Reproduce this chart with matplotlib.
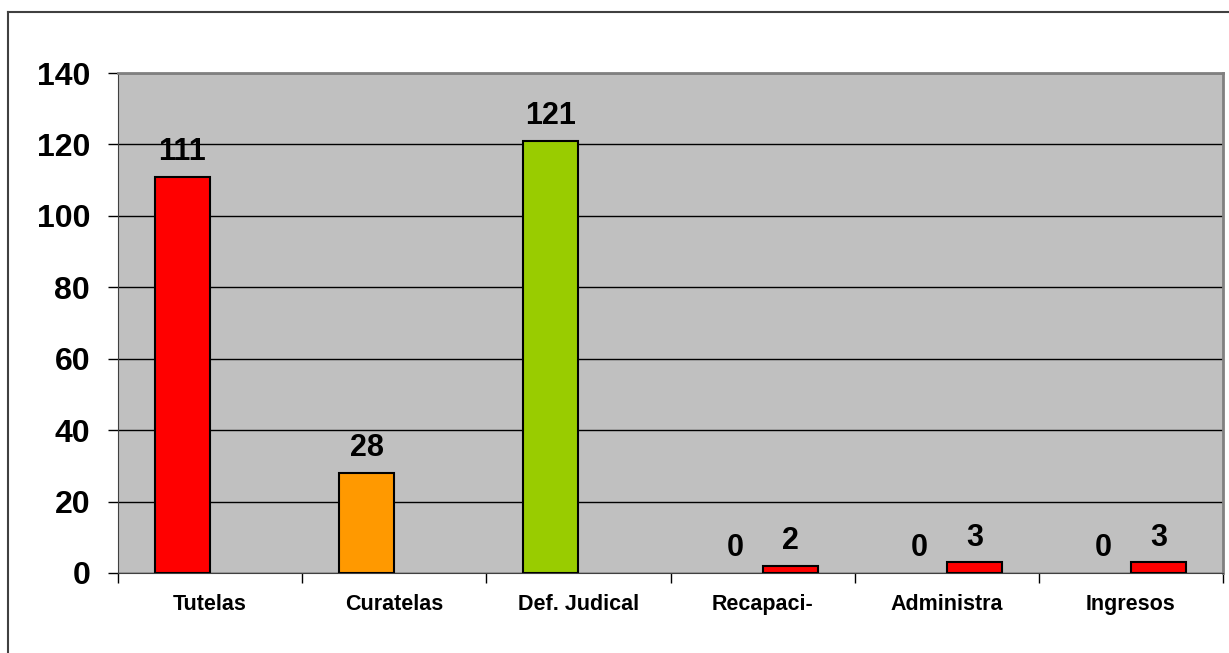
import numpy as np
import matplotlib.pyplot as plt
from matplotlib.lines import Line2D

categories = ['Tutelas', 'Curatelas', 'Def. Judical', 'Recapaci-', 'Administra', 'Ingresos']
serie1 = [111, 28, 121, 0, 0, 0]
serie2 = [np.nan, np.nan, np.nan, 2, 3, 3]
colors1 = ['#FF0000', '#FF9900', '#99CC00', '#FF0000', '#FF0000', '#FF0000']
colors2 = ['#FF0000'] * 6
yticks = [0, 20, 40, 60, 80, 100, 120, 140]

plt.rcParams['font.family'] = ['Liberation Sans', 'DejaVu Sans']
plt.rcParams['font.weight'] = 'bold'

fig = plt.figure(figsize=(12.29, 6.53), dpi=100)
ax = fig.add_axes([118 / 1229, 1 - 573 / 653, (1223 - 118) / 1229, (573 - 73) / 653])
ax.set_facecolor('#C0C0C0')

x = np.arange(len(categories))
w = 0.3
s2 = np.array(serie2, dtype=float)
ok = ~np.isnan(s2)

# zero-height bars get no outline, like the original
lw1 = [1.5 if v > 0 else 0 for v in serie1]
b1 = ax.bar(x - w / 2, serie1, width=w, color=colors1, edgecolor='black', linewidth=lw1, zorder=3)
b2 = ax.bar(x[ok] + w / 2, s2[ok], width=w, color=np.array(colors2)[ok], edgecolor='black',
            linewidth=1.5, zorder=3)
ax.bar_label(b1, labels=[str(v) for v in serie1], padding=7, fontsize=22, fontweight='bold')
ax.bar_label(b2, labels=[str(int(v)) for v in s2[ok]], padding=7, fontsize=22, fontweight='bold')

ax.set_xlim(-0.5, len(categories) - 0.5)
ax.set_ylim(0, 140)
ax.set_yticks(yticks)
ax.tick_params(axis='y', labelsize=23, length=7, width=1, pad=13)
ax.grid(axis='y', color='black', linewidth=1, zorder=1)

# category boundaries as ticks, names centred between them
ax.set_xticks(np.arange(len(categories) + 1) - 0.5)
ax.set_xticklabels([])
ax.set_xticks(x, minor=True)
ax.set_xticklabels(categories, minor=True, fontsize=15.5, fontweight='bold')
ax.tick_params(axis='x', which='major', length=7, width=1)
ax.tick_params(axis='x', which='minor', length=0, pad=15)

for s in ['top', 'right']:
    ax.spines[s].set_color('#808080')
    ax.spines[s].set_linewidth(2)
ax.spines['left'].set_color('#404040')
ax.spines['bottom'].set_color('#404040')

# outer chart border (left and top only visible)
fig.add_artist(Line2D([8 / 1229, 8 / 1229], [0, 1 - 12 / 653], color='#404040', lw=1.5))
fig.add_artist(Line2D([8 / 1229, 1], [1 - 12 / 653, 1 - 12 / 653], color='#404040', lw=1.5))

fig.savefig('out.png', dpi=100)
